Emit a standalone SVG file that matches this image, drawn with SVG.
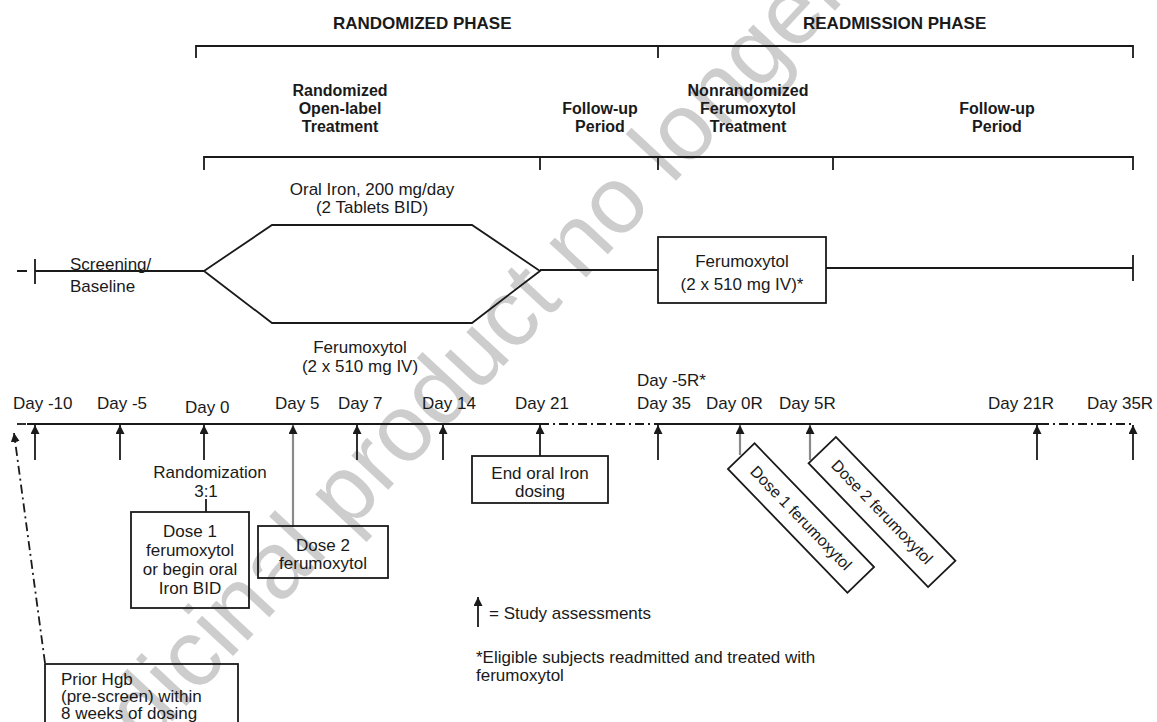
<svg xmlns="http://www.w3.org/2000/svg" width="1157" height="722" viewBox="0 0 1157 722">
<style>
  .ln{stroke:#1a1a1a;stroke-width:1.8;fill:none}
  .box{stroke:#1a1a1a;stroke-width:1.8;fill:none}
  .dd{stroke:#1a1a1a;stroke-width:1.8;fill:none;stroke-dasharray:9,4,2,4}
  .ar{stroke:#1a1a1a;stroke-width:1.8;fill:none;marker-end:url(#ah)}
  .arg{stroke:#8a8a8a;stroke-width:2.2;fill:none;marker-end:url(#ah)}
  text{font-family:"Liberation Sans",Arial,sans-serif;fill:#1a1a1a}
  .h{font-size:17px;font-weight:bold}
  .sh{font-size:16px;font-weight:bold;text-anchor:middle}
  .t{font-size:17px}
  .c{text-anchor:middle}
  .wm{font-size:95px;fill:#cdcdcd}
</style>
<defs>
  <marker id="ah" markerUnits="userSpaceOnUse" markerWidth="10" markerHeight="10" refX="9" refY="4.5" orient="auto">
    <path d="M0,0 L9,4.5 L0,9 z" fill="#1a1a1a"/>
  </marker>
</defs>
<rect width="1157" height="722" fill="#ffffff"/>

<g id="watermark">
  <text class="wm" transform="translate(56,846) rotate(-47)">Medicinal product no longer authorised</text>
</g>

<g id="phase-headers">
  <text class="h" x="333" y="29">RANDOMIZED PHASE</text>
  <text class="h" x="803" y="29">READMISSION PHASE</text>
  <path class="ln" d="M196,58 V46 H1133 V58 M658,46 V58"/>
</g>

<g id="period-headers">
  <text class="sh" x="340" y="96">Randomized</text>
  <text class="sh" x="340" y="114">Open-label</text>
  <text class="sh" x="340" y="132">Treatment</text>
  <text class="sh" x="600" y="114">Follow-up</text>
  <text class="sh" x="600" y="132">Period</text>
  <text class="sh" x="748" y="96">Nonrandomized</text>
  <text class="sh" x="748" y="114">Ferumoxytol</text>
  <text class="sh" x="748" y="132">Treatment</text>
  <text class="sh" x="997" y="114">Follow-up</text>
  <text class="sh" x="997" y="132">Period</text>
  <path class="ln" d="M204,170 V157 H1133 V170 M540,157 V170 M658,157 V170 M833,157 V170"/>
</g>

<g id="screening">
  <path class="ln" d="M17,271 H27 M35,259 V284 M35,271 H204"/>
  <text class="t" x="70" y="270">Screening/</text>
  <text class="t" x="70" y="292">Baseline</text>
</g>

<g id="treatment-arms">
  <path class="ln" d="M204,271 L272,225 H472 L540,271 L472,323 H272 Z"/>
  <text class="t c" x="372" y="195">Oral Iron, 200 mg/day</text>
  <text class="t c" x="372" y="213">(2 Tablets BID)</text>
  <text class="t c" x="360" y="353">Ferumoxytol</text>
  <text class="t c" x="360" y="372">(2 x 510 mg IV)</text>
  <path class="ln" d="M540,270 H658"/>
</g>

<g id="readmission-treatment">
  <rect class="box" x="658" y="237" width="168" height="66"/>
  <text class="t c" x="742" y="267">Ferumoxytol</text>
  <text class="t c" x="742" y="290">(2 x 510 mg IV)*</text>
  <path class="ln" d="M826,268 H1133 M1133,255 V281"/>
</g>

<g id="timeline">
  <path class="ln" d="M17,424 H26" />
  <path class="ln" d="M27,424 H540"/>
  <path class="dd" d="M540,424 H658"/>
  <path class="ln" d="M658,424 H1040"/>
  <path class="dd" d="M1040,424 H1133"/>
  <text class="t" x="13" y="409">Day -10</text>
  <text class="t" x="97" y="409">Day -5</text>
  <text class="t" x="185" y="413">Day 0</text>
  <text class="t" x="275" y="409">Day 5</text>
  <text class="t" x="338" y="409">Day 7</text>
  <text class="t" x="422" y="409">Day 14</text>
  <text class="t" x="515" y="409">Day 21</text>
  <text class="t" x="637" y="386">Day -5R*</text>
  <text class="t" x="637" y="409">Day 35</text>
  <text class="t" x="706" y="409">Day 0R</text>
  <text class="t" x="779" y="409">Day 5R</text>
  <text class="t" x="988" y="409">Day 21R</text>
  <text class="t" x="1087" y="409">Day 35R</text>
</g>

<g id="connectors">
  <path class="ar" d="M35,460 V425"/>
  <path class="ar" d="M120,460 V425"/>
  <path class="ar" d="M204,460 V425"/>
  <path class="arg" d="M293,527 V425"/>
  <path class="ar" d="M357,460 V425"/>
  <path class="ar" d="M443,460 V425"/>
  <path class="ar" d="M540,456 V425"/>
  <path class="ar" d="M658,460 V425"/>
  <path class="arg" d="M740,455 V425"/>
  <path class="arg" d="M810,460 V425"/>
  <path class="ar" d="M1037,460 V425"/>
  <path class="ar" d="M1133,460 V425"/>
  <path class="dd" d="M45,663 L14,433" style="marker-end:url(#ah)"/>
  <path class="ln" d="M206,499 V512"/>
</g>

<g id="randomization">
  <text class="t c" x="210" y="478">Randomization</text>
  <text class="t c" x="206" y="497">3:1</text>
</g>

<g id="dose1-box">
  <rect class="box" x="131" y="512" width="118" height="96"/>
  <text class="t c" x="190" y="537">Dose 1</text>
  <text class="t c" x="190" y="556">ferumoxytol</text>
  <text class="t c" x="190" y="575">or begin oral</text>
  <text class="t c" x="190" y="594">Iron BID</text>
</g>

<g id="dose2-box">
  <rect class="box" x="258" y="526" width="130" height="52"/>
  <text class="t c" x="323" y="551">Dose 2</text>
  <text class="t c" x="323" y="569">ferumoxytol</text>
</g>

<g id="end-oral-box">
  <rect class="box" x="472" y="456" width="136" height="47"/>
  <text class="t c" x="540" y="479">End oral Iron</text>
  <text class="t c" x="540" y="497">dosing</text>
</g>

<g id="dose1R-box" transform="translate(801,518) rotate(46)">
  <rect class="box" x="-86" y="-18.5" width="172" height="37"/>
  <text class="c" x="0" y="5.5" style="font-size:16px">Dose 1 ferumoxytol</text>
</g>

<g id="dose2R-box" transform="translate(882,512) rotate(46)">
  <rect class="box" x="-86" y="-19" width="172" height="38"/>
  <text class="c" x="0" y="5.5" style="font-size:16px">Dose 2 ferumoxytol</text>
</g>

<g id="prior-hgb-box">
  <rect class="box" x="45" y="664" width="193" height="70"/>
  <text class="t" x="61" y="685">Prior Hgb</text>
  <text class="t" x="61" y="702">(pre-screen) within</text>
  <text class="t" x="61" y="719">8 weeks of dosing</text>
</g>

<g id="legend">
  <path class="ar" d="M478,627 V597"/>
  <text class="t" x="489" y="619">= Study assessments</text>
  <text class="t" x="476" y="663">*Eligible subjects readmitted and treated with</text>
  <text class="t" x="476" y="681">ferumoxytol</text>
</g>
</svg>
